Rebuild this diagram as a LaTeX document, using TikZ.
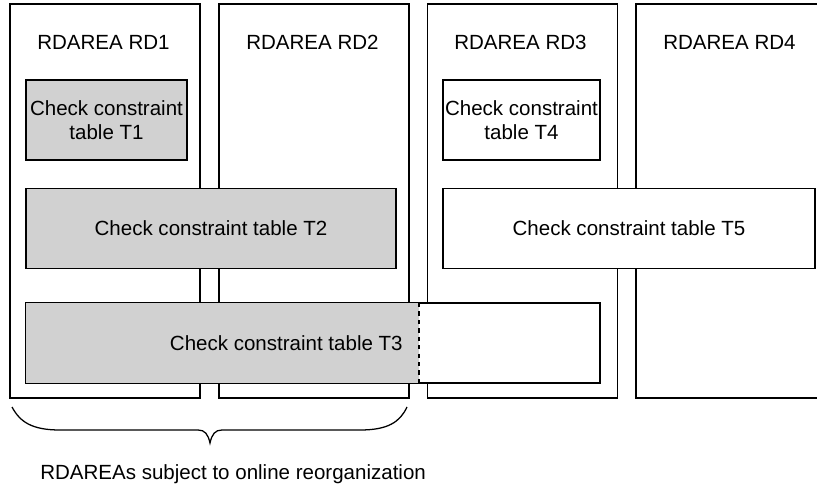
\documentclass[tikz,border=0pt]{standalone}
\usepackage{fontspec}
\setmainfont{Liberation Sans}
\usepackage{tikz}

\begin{document}
\begin{tikzpicture}[
  line width=0.9pt,
  every node/.style={font=\fontsize{14.6pt}{17pt}\selectfont},
  rdarea/.style={draw, rectangle, fill=white, minimum width=4.75cm, minimum height=9.85cm, inner sep=0pt},
  tablebox/.style={draw, rectangle, fill=white, minimum height=2cm, inner sep=0pt, align=center},
  shaded/.style={fill=black!18}
]
\clip (0,0) rectangle (20.425,-12.3);

\node (rd1) [rdarea] at (2.625,-5.025) {};
\node (rd2) [rdarea] at (7.85,-5.025) {};
\node (rd3) [rdarea] at (13.0625,-5.025) {};
\node (rd4) [rdarea] at (18.275,-5.025) {};
\node (l1) [anchor=west] at (0.8,-1.05) {RDAREA RD1};
\node (l2) [anchor=west] at (6.025,-1.05) {RDAREA RD2};
\node (l3) [anchor=west] at (11.225,-1.05) {RDAREA RD3};
\node (l4) [anchor=west] at (16.45,-1.05) {RDAREA RD4};

\node (t1) [tablebox, shaded, minimum width=4.025cm] at (2.6625,-3) {Check constraint\\table T1};
\node (t2) [tablebox, shaded, minimum width=9.25cm] at (5.275,-5.7125) {Check constraint table T2};
\node (t4) [tablebox, minimum width=3.925cm] at (13.0375,-3) {Check constraint\\table T4};
\node (t5) [tablebox, minimum width=9.3cm] at (15.725,-5.7125) {Check constraint table T5};

\node (t3) [tablebox, minimum width=14.35cm] at (7.825,-8.575) {};
\coordinate (cut) at (10.475,-7.575);
\fill[shaded] (t3.south west) rectangle (cut);
\draw[dashed] (cut) -- (cut |- t3.south);
\draw (t3.north west) rectangle (t3.south east);
\node (t3txt) [anchor=east] at (10.2,-8.575) {Check constraint table T3};

\coordinate (bl) at (0.3,-10.175);
\coordinate (br) at (10.175,-10.175);
\coordinate (tip) at (5.25,-11.075);
\draw (bl) .. controls (0.5,-10.55) and (0.8,-10.75) .. (1.5,-10.75) -- (4.95,-10.75)
  .. controls (5.12,-10.75) and (5.2,-10.85) .. (tip)
  .. controls (5.3,-10.85) and (5.38,-10.75) .. (5.55,-10.75) -- (9.0,-10.75)
  .. controls (9.7,-10.75) and (10.0,-10.55) .. (br);
\node (note) [anchor=west] at (0.875,-11.85) {RDAREAs subject to online reorganization};

\end{tikzpicture}
\end{document}
